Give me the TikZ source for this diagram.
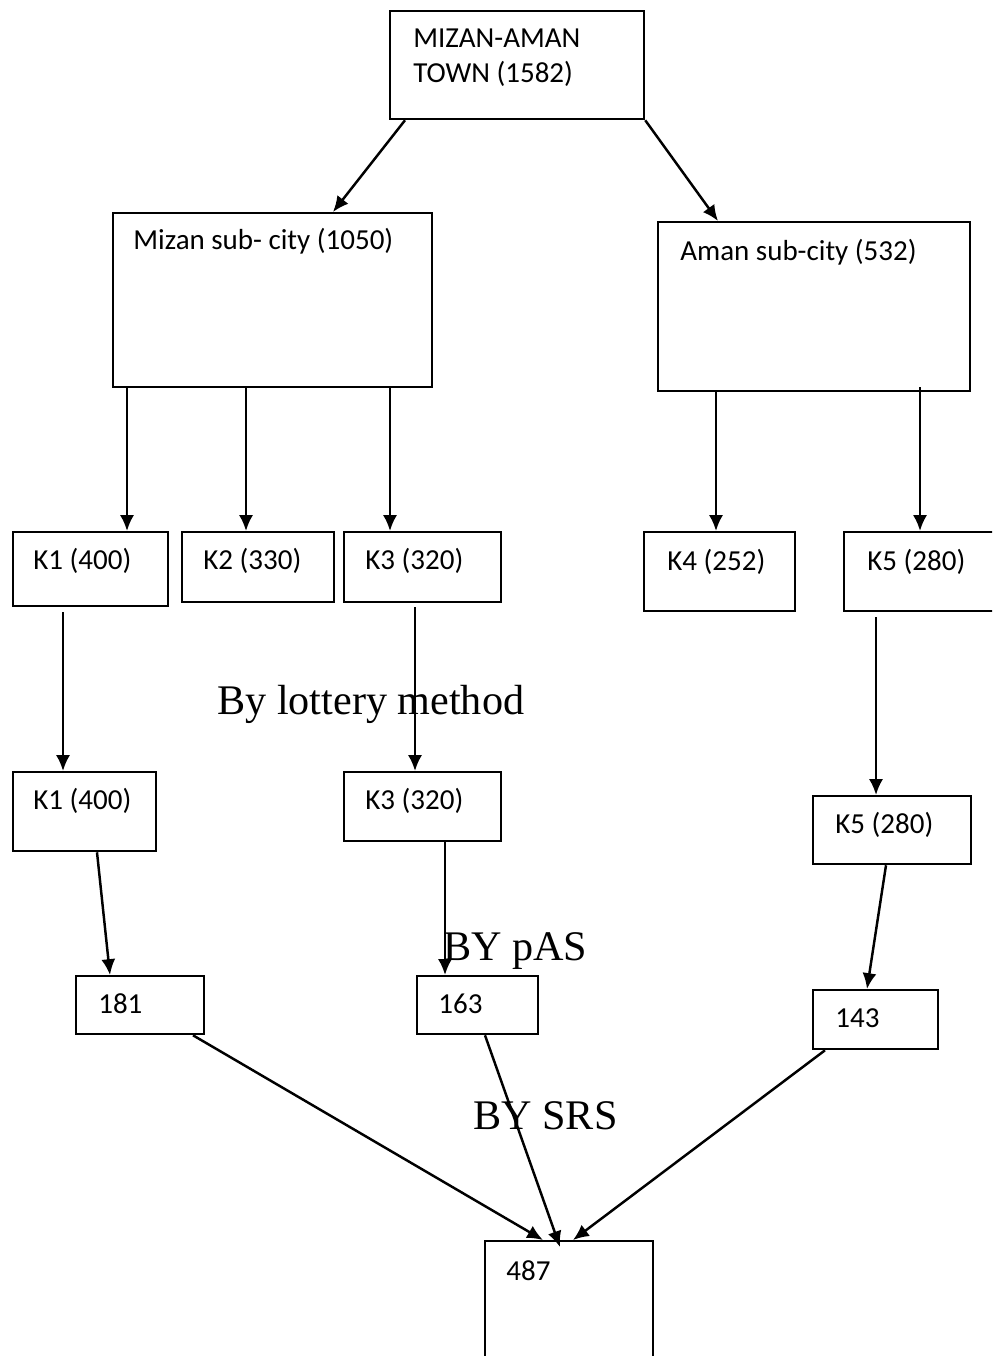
\documentclass[tikz,border=0pt]{standalone}
\usepackage{fontspec}
\setmainfont{Liberation Serif}
\newfontfamily\boxfont{Carlito}
\usetikzlibrary{arrows.meta}

\begin{document}
\begin{tikzpicture}[x=0.02cm,y=-0.02cm,
		box/.style={draw,line width=1.3pt,anchor=north west,inner sep=0pt},
		txt/.style={anchor=base west,inner sep=0pt,font=\boxfont\fontsize{16.5}{20}\selectfont},
		big/.style={anchor=base west,inner sep=0pt,font=\fontsize{24}{28}\selectfont},
		arr/.style={-{Latex[length=9pt,width=8pt]},line width=1.4pt}]
			\useasboundingbox (0,0) rectangle (992,1356);
			\clip (0,0) rectangle (992,1356);
			% boxes
			\node[box,minimum width=5.08cm,minimum height=2.16cm] (town) at (389,10) {};
			\node[box,minimum width=6.38cm,minimum height=3.48cm] (mizan) at (112,212) {};
			\node[box,minimum width=6.24cm,minimum height=3.38cm] (aman) at (657,221) {};
			\node[box,minimum width=3.10cm,minimum height=1.48cm] (k1) at (12,531) {};
			\node[box,minimum width=3.04cm,minimum height=1.40cm] (k2) at (181,531) {};
			\node[box,minimum width=3.14cm,minimum height=1.40cm] (k3) at (343,531) {};
			\node[box,minimum width=3.02cm,minimum height=1.58cm] (k4) at (643,531) {};
			\node[box,minimum width=3.10cm,minimum height=1.58cm] (k5) at (843,531) {};
			\node[box,minimum width=2.86cm,minimum height=1.58cm] (k1s) at (12,771) {};
			\node[box,minimum width=3.14cm,minimum height=1.38cm] (k3s) at (343,771) {};
			\node[box,minimum width=3.16cm,minimum height=1.36cm] (k5s) at (812,795) {};
			\node[box,minimum width=2.56cm,minimum height=1.16cm] (s181) at (75,975) {};
			\node[box,minimum width=2.42cm,minimum height=1.16cm] (s163) at (416,975) {};
			\node[box,minimum width=2.50cm,minimum height=1.18cm] (s143) at (812,989) {};
			\node[box,minimum width=3.36cm,minimum height=2.60cm] (total) at (484,1240) {};
			% texts in boxes
			\node[txt] (townA) at ([shift={(24,37)}]town.north west) {MIZAN-AMAN};
			\node[txt] (townB) at ([shift={(24,72)}]town.north west) {TOWN (1582)};
			\node[txt] (mizanT) at ([shift={(21,37)}]mizan.north west) {Mizan sub- city (1050)};
			\node[txt] (amanT) at ([shift={(23,39)}]aman.north west) {Aman sub-city (532)};
			\node[txt] (k1T) at ([shift={(21,38)}]k1.north west) {K1 (400)};
			\node[txt] (k2T) at ([shift={(22,38)}]k2.north west) {K2 (330)};
			\node[txt] (k3T) at ([shift={(22,38)}]k3.north west) {K3 (320)};
			\node[txt] (k4T) at ([shift={(24,39)}]k4.north west) {K4 (252)};
			\node[txt] (k5T) at ([shift={(24,39)}]k5.north west) {K5 (280)};
			\node[txt] (k1sT) at ([shift={(21,38)}]k1s.north west) {K1 (400)};
			\node[txt] (k3sT) at ([shift={(22,38)}]k3s.north west) {K3 (320)};
			\node[txt] (k5sT) at ([shift={(23,38)}]k5s.north west) {K5 (280)};
			\node[txt] (s181T) at ([shift={(23,38)}]s181.north west) {181};
			\node[txt] (s163T) at ([shift={(22,38)}]s163.north west) {163};
			\node[txt] (s143T) at ([shift={(23,38)}]s143.north west) {143};
			\node[txt] (totalT) at ([shift={(22,40)}]total.north west) {487};
			% method labels
			\node[big] (lot) at (217,714) {By lottery method};
			\node[big] (pas) at (443,960) {BY pAS};
			\node[big] (srs) at (473,1129) {BY SRS};
			% arrows
			\draw[arr] ([shift={(16,0)}]town.south west) -- ([shift={(221,0)}]mizan.north west);
			\draw[arr] (town.south east) -- ([shift={(61,0)}]aman.north west);
			\draw[arr] ([shift={(15,0)}]mizan.south west) -- ([shift={(115,0)}]k1.north west);
			\draw[arr] ([shift={(134,0)}]mizan.south west) -- ([shift={(65,0)}]k2.north west);
			\draw[arr] ([shift={(278,0)}]mizan.south west) -- ([shift={(47,0)}]k3.north west);
			\draw[arr] ([shift={(59,0)}]aman.south west) -- ([shift={(73,0)}]k4.north west);
			\draw[arr] ([shift={(263,-5)}]aman.south west) -- ([shift={(77,0)}]k5.north west);
			\draw[arr] ([shift={(51,5)}]k1.south west) -- ([shift={(51,0)}]k1s.north west);
			\draw[arr] ([shift={(72,4)}]k3.south west) -- ([shift={(72,0)}]k3s.north west);
			\draw[arr] ([shift={(33,5)}]k5.south west) -- ([shift={(64,0)}]k5s.north west);
			\draw[arr] ([shift={(85,0)}]k1s.south west) -- ([shift={(35,0)}]s181.north west);
			\draw[arr] ([shift={(102,0)}]k3s.south west) -- ([shift={(29,0)}]s163.north west);
			\draw[arr] ([shift={(74,0)}]k5s.south west) -- ([shift={(55,0)}]s143.north west);
			\draw[arr] ([shift={(118,0)}]s181.south west) -- ([shift={(59,0)}]total.north west);
			\draw[arr] ([shift={(69,0)}]s163.south west) -- ([shift={(76,7)}]total.north west);
			\draw[arr] ([shift={(13,0)}]s143.south west) -- ([shift={(89,0)}]total.north west);
		\end{tikzpicture}
\end{document}
